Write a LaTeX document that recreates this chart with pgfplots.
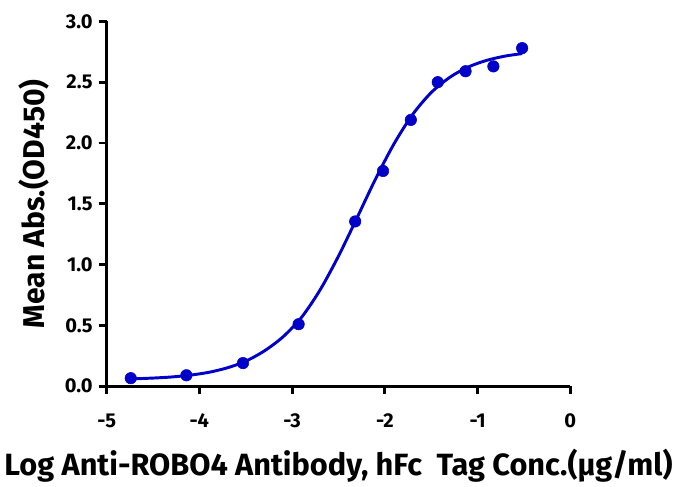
\documentclass[border=0pt]{standalone}
\usepackage{fontspec}
\setmainfont{Fira Sans}
\usepackage{pgfplots}
\pgfplotsset{compat=1.18}
\definecolor{curveblue}{RGB}{0,0,200}

\begin{document}
\begin{tikzpicture}
  \begin{axis}[
      scale only axis, width=347pt, height=273pt,
      xmin=-5, xmax=0, ymin=0, ymax=3,
      axis lines=left, axis line style={line width=2.2pt, -},
      xtick={-5,-4,-3,-2,-1,0}, xticklabels={-5,-4,-3,-2,-1,0},
      ytick={0,0.5,1,1.5,2,2.5,3}, yticklabels={0.0,0.5,1.0,1.5,2.0,2.5,3.0},
      tick align=outside, major tick length=6pt,
      tick style={line width=2.2pt, black},
      xticklabel style={font=\bfseries\fontsize{15}{17}\selectfont, yshift=-11pt},
      yticklabel style={font=\bfseries\fontsize{15}{17}\selectfont, xshift=-1pt},
      xlabel={Log Anti-ROBO4 Antibody, hFc\ \ Tag Conc.(µg/ml)},
      ylabel={Mean Abs.(OD450)},
      xlabel style={font=\bfseries\fontsize{23}{26}\selectfont, yshift=-9pt},
      ylabel style={font=\bfseries\fontsize{22.5}{26}\selectfont, yshift=5pt},
      clip=false,
    ]
    % fitted curve
    \addplot[curveblue, line width=2.2pt, smooth, no markers] coordinates {
      (-4.74,0.060) (-4.5,0.067) (-4.3,0.076) (-4.1,0.091) (-3.9,0.114)
      (-3.7,0.151) (-3.5,0.206) (-3.3,0.290) (-3.1,0.405) (-2.9,0.565)
      (-2.7,0.790) (-2.5,1.070) (-2.3,1.385) (-2.1,1.705) (-1.9,1.995)
      (-1.7,2.235) (-1.5,2.415) (-1.3,2.540) (-1.1,2.625) (-0.9,2.680)
      (-0.7,2.715) (-0.52,2.735) };
    % measured points
    \addplot[only marks, mark=*, mark size=4.3pt, curveblue] coordinates {
      (-4.74,0.066) (-4.14,0.090) (-3.53,0.190) (-2.93,0.510)
      (-2.32,1.355) (-2.02,1.770) (-1.72,2.190) (-1.43,2.500)
      (-1.13,2.590) (-0.83,2.630) (-0.52,2.780) };
    % white space above the plot, as in the reference
    \path (rel axis cs:0,1) ++(0,16pt);
  \end{axis}
\end{tikzpicture}
\end{document}
